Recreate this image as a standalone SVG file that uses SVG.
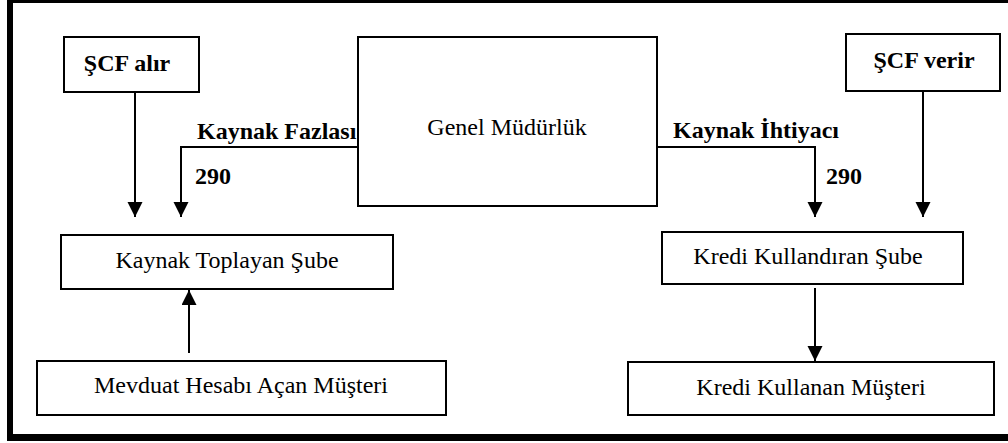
<svg xmlns="http://www.w3.org/2000/svg" width="1008" height="443" viewBox="0 0 1008 443">
  <style>
    .box { fill: #ffffff; stroke: #000000; stroke-width: 2; }
    .lbl { font-size: 24px; fill: #000000; }
    .bold { font-weight: bold; }
    .mid { text-anchor: middle; }
    .wire { fill: none; stroke: #000000; stroke-width: 2; }
    .frame { fill: #000000; }
  </style>
  <defs>
    <marker id="arrow" markerUnits="userSpaceOnUse" markerWidth="16" markerHeight="16" refX="15" refY="7.5" orient="auto">
      <path d="M0,0 L15,7.5 L0,15 Z" fill="#000000"/>
    </marker>
  </defs>

  <rect width="1008" height="443" fill="#ffffff"/>

  <!-- outer frame: top, left and bottom bands -->
  <g id="frame">
    <rect class="frame" x="7" y="0" width="1001" height="3"/>
    <rect class="frame" x="7" y="0" width="6" height="441"/>
    <rect class="frame" x="7" y="434" width="1001" height="7"/>
  </g>

  <!-- connectors -->
  <g id="connectors">
    <line class="wire" x1="135" y1="92" x2="135" y2="217" marker-end="url(#arrow)"/>
    <polyline class="wire" points="358,147 181,147 181,217" marker-end="url(#arrow)"/>
    <polyline class="wire" points="658,147 815,147 815,217" marker-end="url(#arrow)"/>
    <line class="wire" x1="923" y1="91" x2="923" y2="217" marker-end="url(#arrow)"/>
    <line class="wire" x1="189" y1="353" x2="189" y2="290" marker-end="url(#arrow)"/>
    <line class="wire" x1="815" y1="288" x2="815" y2="361" marker-end="url(#arrow)"/>
  </g>

  <g font-family="'Liberation Serif', 'Times New Roman', Times, serif">
    <!-- connector labels -->
    <g id="edge-labels">
      <text class="lbl bold" x="197" y="139">Kaynak Fazlası</text>
      <text class="lbl bold" x="195" y="184">290</text>
      <text class="lbl bold" x="673" y="138">Kaynak İhtiyacı</text>
      <text class="lbl bold" x="826" y="184">290</text>
    </g>

    <g id="scf-alir">
      <rect class="box" x="64" y="37" width="135" height="55"/>
      <text class="lbl bold mid" x="127" y="71">ŞCF alır</text>
    </g>

    <g id="genel-mudurluk">
      <rect class="box" x="358" y="37" width="299" height="169"/>
      <text class="lbl mid" x="507" y="135">Genel Müdürlük</text>
    </g>

    <g id="scf-verir">
      <rect class="box" x="846" y="34" width="154" height="57"/>
      <text class="lbl bold mid" x="924" y="68">ŞCF verir</text>
    </g>

    <g id="kaynak-toplayan-sube">
      <rect class="box" x="61" y="235" width="332" height="54"/>
      <text class="lbl mid" x="227" y="268">Kaynak Toplayan Şube</text>
    </g>

    <g id="kredi-kullandiran-sube">
      <rect class="box" x="662" y="232" width="301" height="52"/>
      <text class="lbl mid" x="808" y="264">Kredi Kullandıran Şube</text>
    </g>

    <g id="mevduat-hesabi-musteri">
      <rect class="box" x="37" y="361" width="409" height="54"/>
      <text class="lbl mid" x="241" y="393">Mevduat Hesabı Açan Müşteri</text>
    </g>

    <g id="kredi-kullanan-musteri">
      <rect class="box" x="628" y="362" width="366" height="53"/>
      <text class="lbl mid" x="811" y="395">Kredi Kullanan Müşteri</text>
    </g>
  </g>
</svg>
